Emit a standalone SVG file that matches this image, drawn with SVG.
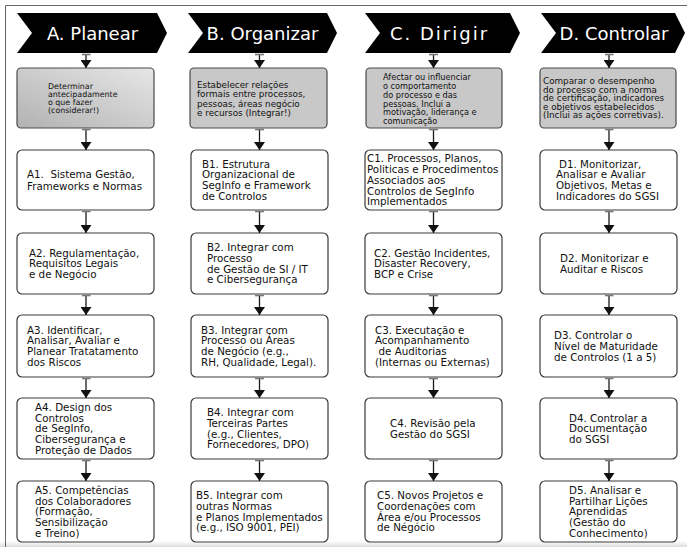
<svg xmlns="http://www.w3.org/2000/svg" width="687" height="547" viewBox="0 0 687 547">
<style>
text{font-family:"DejaVu Sans","Liberation Sans",sans-serif;fill:#111}
.hdr{font-size:18px;fill:#fff;text-anchor:middle}
.chev{fill:#000}
.gbox{fill:#c8c8c8;stroke:#4a4a4a;stroke-width:1.2}
.box{fill:#fff;stroke:#3a3a3a;stroke-width:1.2}
.ga{font-size:7.9px}
.gb{font-size:8.8px}
.gc{font-size:8.2px}
.gd{font-size:8.8px}
.t{font-size:10.3px}
.conn path{fill:none;stroke:#1a1a1a;stroke-width:1.3;marker-start:url(#tee);marker-end:url(#ah)}
</style>
<defs>
<linearGradient id="gA" x1="1" y1="0" x2="0" y2="1">
<stop offset="0" stop-color="#e6e6e6"/>
<stop offset="1" stop-color="#b2b2b2"/>
</linearGradient>
<linearGradient id="shade" x1="0" y1="0" x2="0" y2="1">
<stop offset="0" stop-color="#ffffff"/>
<stop offset="1" stop-color="#dcdcdc"/>
</linearGradient>
<marker id="ah" markerUnits="userSpaceOnUse" markerWidth="8" markerHeight="11" viewBox="0 0 8 11" refX="8" refY="5.5" orient="auto">
<path d="M0,0 L8,5.5 L0,11 Z" fill="#111"/>
</marker>
<marker id="tee" markerUnits="userSpaceOnUse" markerWidth="3" markerHeight="9" viewBox="-1.5 -4.5 3 9" refX="0" refY="0" orient="auto">
<path d="M0,-4.5 L0,4.5" stroke="#777" stroke-width="1.6"/>
</marker>
</defs>
<rect x="0" y="0" width="687" height="547" fill="#fff"/>
<rect x="0" y="541" width="687" height="6" fill="url(#shade)"/>
<path d="M5.5,547 V5.5 H687" fill="none" stroke="#666" stroke-width="1"/>

<g id="hdrA"><path class="chev" d="M17,13 H157 L167,33 L157,53 H17 L32,33 Z"/><text class="hdr" x="92.5" y="39.5">A. Planear</text></g>
<g id="hdrB"><path class="chev" d="M188,13 H327 L337,33 L327,53 H188 L203,33 Z"/><text class="hdr" x="262.5" y="39.5">B. Organizar</text></g>
<g id="hdrC"><path class="chev" d="M365,13 H510 L520,33 L510,53 H365 L380,33 Z"/><text class="hdr" x="439.5" y="39.5" letter-spacing="2">C. Dirigir</text></g>
<g id="hdrD"><path class="chev" d="M541,13 H675 L685,33 L675,53 H541 L556,33 Z"/><text class="hdr" x="614" y="39.5">D. Controlar</text></g>

<g id="gA0"><rect x="17" y="68" width="137" height="60" rx="4" fill="url(#gA)" stroke="#4a4a4a" stroke-width="1.2"/>
<text class="ga"><tspan x="48" y="89">Determinar</tspan><tspan x="48" dy="7.9">antecipadamente</tspan><tspan x="48" dy="7.9">o que fazer</tspan><tspan x="48" dy="7.9">(considerar!)</tspan></text></g>
<g id="gB0"><rect class="gbox" x="190" y="68" width="137" height="60" rx="4"/>
<text class="gb"><tspan x="197" y="88">Estabelecer relações</tspan><tspan x="197" dy="9.3">formais entre processos,</tspan><tspan x="197" dy="9.3">pessoas, áreas negócio</tspan><tspan x="197" dy="9.3">e recursos (Integrar!)</tspan></text></g>
<g id="gC0"><rect class="gbox" x="366" y="68" width="136" height="60" rx="4"/>
<text class="gc"><tspan x="383" y="80.2">Afectar ou influenciar</tspan><tspan x="383" dy="8.8">o comportamento</tspan><tspan x="383" dy="8.8">do processo e das</tspan><tspan x="383" dy="8.8">pessoas. Inclui a</tspan><tspan x="383" dy="8.8">motivação, liderança e</tspan><tspan x="383" dy="8.8">comunicação</tspan></text></g>
<g id="gD0"><rect class="gbox" x="540" y="68" width="136" height="60" rx="4"/>
<text class="gd"><tspan x="543" y="84">Comparar o desempenho</tspan><tspan x="543" dy="8.5">do processo com a norma</tspan><tspan x="543" dy="8.5">de certificação, indicadores</tspan><tspan x="543" dy="8.5">e objetivos estabelecidos</tspan><tspan x="543" dy="8.5">(Inclui as ações corretivas).</tspan></text></g>

<g id="A1"><rect class="box" x="17" y="150" width="137" height="60" rx="5"/>
<text class="t" xml:space="preserve"><tspan x="27" y="178.2">A1.  Sistema Gestão,</tspan><tspan x="27" dy="11.7">Frameworks e Normas</tspan></text></g>
<g id="A2"><rect class="box" x="17" y="233" width="137" height="61" rx="5"/>
<text class="t"><tspan x="29" y="256.5">A2. Regulamentação,</tspan><tspan x="29" dy="10.8">Requisitos Legais</tspan><tspan x="29" dy="10.8">e de Negócio</tspan></text></g>
<g id="A3"><rect class="box" x="17" y="315" width="137" height="62" rx="5"/>
<text class="t"><tspan x="27" y="333.5">A3. Identificar,</tspan><tspan x="27" dy="10.8">Analisar, Avaliar e</tspan><tspan x="27" dy="10.8">Planear Tratatamento</tspan><tspan x="27" dy="10.8">dos Riscos</tspan></text></g>
<g id="A4"><rect class="box" x="17" y="398" width="137" height="61" rx="5"/>
<text class="t"><tspan x="35" y="410.7">A4. Design dos</tspan><tspan x="35" dy="10.8">Controlos</tspan><tspan x="35" dy="10.8">de SegInfo,</tspan><tspan x="35" dy="10.8">Cibersegurança e</tspan><tspan x="35" dy="10.8">Proteção de Dados</tspan></text></g>
<g id="A5"><rect class="box" x="17" y="481" width="137" height="61" rx="5"/>
<text class="t"><tspan x="35" y="493.7">A5. Competências</tspan><tspan x="35" dy="10.8">dos Colaboradores</tspan><tspan x="35" dy="10.8">(Formação,</tspan><tspan x="35" dy="10.8">Sensibilização</tspan><tspan x="35" dy="10.8">e Treino)</tspan></text></g>

<g id="B1"><rect class="box" x="191" y="150" width="137" height="60" rx="5"/>
<text class="t"><tspan x="202" y="167.5">B1. Estrutura</tspan><tspan x="202" dy="10.8">Organizacional de</tspan><tspan x="202" dy="10.8">SegInfo e Framework</tspan><tspan x="202" dy="10.8">de Controlos</tspan></text></g>
<g id="B2"><rect class="box" x="191" y="233" width="137" height="61" rx="5"/>
<text class="t"><tspan x="207" y="251">B2. Integrar com</tspan><tspan x="207" dy="10.8">Processo</tspan><tspan x="207" dy="10.8">de Gestão de SI / IT</tspan><tspan x="207" dy="10.8">e Cibersegurança</tspan></text></g>
<g id="B3"><rect class="box" x="191" y="315" width="137" height="62" rx="5"/>
<text class="t"><tspan x="201" y="333.5">B3. Integrar com</tspan><tspan x="201" dy="10.8">Processo ou Áreas</tspan><tspan x="201" dy="10.8">de Negócio (e.g.,</tspan><tspan x="201" dy="10.8">RH, Qualidade, Legal).</tspan></text></g>
<g id="B4"><rect class="box" x="191" y="398" width="137" height="61" rx="5"/>
<text class="t"><tspan x="207" y="416">B4. Integrar com</tspan><tspan x="207" dy="10.8">Terceiras Partes</tspan><tspan x="207" dy="10.8">(e.g., Clientes,</tspan><tspan x="207" dy="10.8">Fornecedores, DPO)</tspan></text></g>
<g id="B5"><rect class="box" x="191" y="481" width="137" height="61" rx="5"/>
<text class="t"><tspan x="196" y="499">B5. Integrar com</tspan><tspan x="196" dy="10.8">outras Normas</tspan><tspan x="196" dy="10.8">e Planos Implementados</tspan><tspan x="196" dy="10.8">(e.g., ISO 9001, PEI)</tspan></text></g>

<g id="C1"><rect class="box" x="365" y="150" width="137" height="60" rx="5"/>
<text class="t"><tspan x="367" y="162.2">C1. Processos, Planos,</tspan><tspan x="367" dy="10.8">Politicas e Procedimentos</tspan><tspan x="367" dy="10.8">Associados aos</tspan><tspan x="367" dy="10.8">Controlos de SegInfo</tspan><tspan x="367" dy="10.8">Implementados</tspan></text></g>
<g id="C2"><rect class="box" x="365" y="233" width="137" height="61" rx="5"/>
<text class="t"><tspan x="374" y="256.5">C2. Gestão Incidentes,</tspan><tspan x="374" dy="10.8">Disaster Recovery,</tspan><tspan x="374" dy="10.8">BCP e Crise</tspan></text></g>
<g id="C3"><rect class="box" x="365" y="315" width="137" height="62" rx="5"/>
<text class="t"><tspan x="375" y="333.5">C3. Executação e</tspan><tspan x="375" dy="10.8">Acompanhamento</tspan><tspan x="378.5" dy="10.8">de Auditorias</tspan><tspan x="375" dy="10.8">(Internas ou Externas)</tspan></text></g>
<g id="C4"><rect class="box" x="365" y="398" width="137" height="61" rx="5"/>
<text class="t"><tspan x="390" y="426.9">C4. Revisão pela</tspan><tspan x="390" dy="10.8">Gestão do SGSI</tspan></text></g>
<g id="C5"><rect class="box" x="365" y="481" width="137" height="61" rx="5"/>
<text class="t"><tspan x="377" y="499">C5. Novos Projetos e</tspan><tspan x="377" dy="10.8">Coordenações com</tspan><tspan x="377" dy="10.8">Área e/ou Processos</tspan><tspan x="377" dy="10.8">de Négócio</tspan></text></g>

<g id="D1"><rect class="box" x="540" y="150" width="137" height="60" rx="5"/>
<text class="t"><tspan x="559" y="167.5">D1. Monitorizar,</tspan><tspan x="556" dy="10.8">Analisar e Avaliar</tspan><tspan x="556" dy="10.8">Objetivos, Metas e</tspan><tspan x="556" dy="10.8">Indicadores do SGSI</tspan></text></g>
<g id="D2"><rect class="box" x="540" y="233" width="137" height="61" rx="5"/>
<text class="t"><tspan x="560" y="261.9">D2. Monitorizar e</tspan><tspan x="560" dy="10.8">Auditar e Riscos</tspan></text></g>
<g id="D3"><rect class="box" x="540" y="315" width="137" height="62" rx="5"/>
<text class="t"><tspan x="554" y="339">D3. Controlar o</tspan><tspan x="554" dy="10.8">Nível de Maturidade</tspan><tspan x="554" dy="10.8">de Controlos (1 a 5)</tspan></text></g>
<g id="D4"><rect class="box" x="540" y="398" width="137" height="61" rx="5"/>
<text class="t"><tspan x="569" y="421.5">D4. Controlar a</tspan><tspan x="569" dy="10.8">Documentação</tspan><tspan x="569" dy="10.8">do SGSI</tspan></text></g>
<g id="D5"><rect class="box" x="540" y="481" width="137" height="61" rx="5"/>
<text class="t"><tspan x="569" y="493.7">D5. Analisar e</tspan><tspan x="569" dy="10.8">Partilhar Lições</tspan><tspan x="569" dy="10.8">Aprendidas</tspan><tspan x="569" dy="10.8">(Gestão do</tspan><tspan x="569" dy="10.8">Conhecimento)</tspan></text></g>

<g id="connectors" class="conn">
<path d="M86,54.5 V68"/><path d="M86,129.5 V150"/><path d="M86,211.5 V233"/><path d="M86,295.5 V315"/><path d="M86,378.5 V398"/><path d="M86,460.5 V481"/>
<path d="M259.5,54.5 V68"/><path d="M259.5,129.5 V150"/><path d="M259.5,211.5 V233"/><path d="M259.5,295.5 V315"/><path d="M259.5,378.5 V398"/><path d="M259.5,460.5 V481"/>
<path d="M433.5,54.5 V68"/><path d="M433.5,129.5 V150"/><path d="M433.5,211.5 V233"/><path d="M433.5,295.5 V315"/><path d="M433.5,378.5 V398"/><path d="M433.5,460.5 V481"/>
<path d="M609,54.5 V68"/><path d="M609,129.5 V150"/><path d="M609,211.5 V233"/><path d="M609,295.5 V315"/><path d="M609,378.5 V398"/><path d="M609,460.5 V481"/>
</g>
</svg>
